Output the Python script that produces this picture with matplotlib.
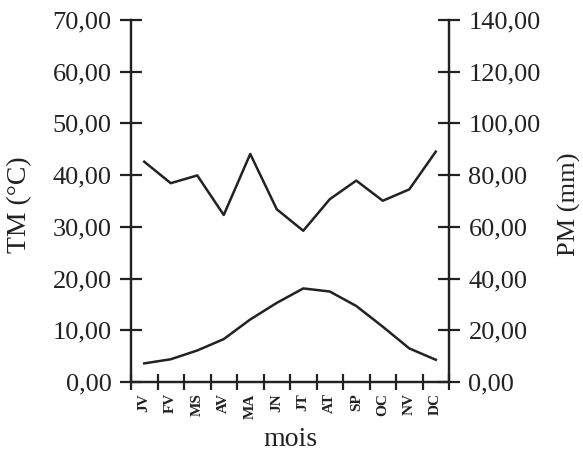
import matplotlib.pyplot as plt
from matplotlib.ticker import FuncFormatter, FixedLocator, MultipleLocator

mois = ["JV", "FV", "MS", "AV", "MA", "JN", "JT", "AT", "SP", "OC", "NV", "DC"]
tm = [3.6, 4.4, 6.1, 8.3, 12.1, 15.3, 18.1, 17.5, 14.7, 10.7, 6.5, 4.3]
pm = [85.2, 76.9, 79.9, 64.6, 88.2, 66.8, 58.5, 70.7, 77.9, 70.1, 74.5, 89.1]

plt.rcParams["font.family"] = "serif"
plt.rcParams["font.serif"] = ["Liberation Serif", "DejaVu Serif"]
ink = "#222222"

fig = plt.figure(figsize=(5.83, 4.55), dpi=100)
ax = fig.add_axes([0.2247, 0.1604, 0.5455, 0.7956])
ax2 = ax.twinx()

x = range(len(mois))
ax.plot(x, tm, color=ink, lw=1.8)
ax2.plot(x, pm, color=ink, lw=1.8)

ax.set_xlim(-0.5, len(mois) - 0.5)
ax.set_ylim(0, 70)
ax2.set_ylim(0, 140)
ax.yaxis.set_major_locator(MultipleLocator(10))
ax2.yaxis.set_major_locator(MultipleLocator(20))

fmt = FuncFormatter(lambda v, p: f"{v:.2f}".replace(".", ","))
ax.yaxis.set_major_formatter(fmt)
ax2.yaxis.set_major_formatter(fmt)

# ticks between months, labels at month centres
ax.xaxis.set_major_locator(FixedLocator([i - 0.5 for i in range(len(mois) + 1)]))
ax.xaxis.set_major_formatter(FuncFormatter(lambda v, p: ""))
ax.xaxis.set_minor_locator(FixedLocator(list(x)))
ax.set_xticklabels(mois, minor=True, rotation=90, fontsize=11, fontweight="bold")
ax.tick_params(axis="x", which="minor", length=0, pad=8, labelcolor=ink)
ax.tick_params(axis="x", which="major", direction="inout", length=11, width=1.6, color=ink)

for a in (ax, ax2):
    a.spines["top"].set_visible(False)
    for s in a.spines.values():
        s.set_linewidth(1.6)
        s.set_color(ink)
    a.tick_params(axis="y", direction="inout", length=16, width=1.6, color=ink,
                  labelsize=19, labelcolor=ink, pad=6)

ax.set_ylabel("TM (°C)", fontsize=20, color=ink)
ax2.set_ylabel("PM (mm)", fontsize=19, color=ink)
ax.set_xlabel("mois", fontsize=20, color=ink)
ax.yaxis.set_label_coords(-0.31, 0.49)
ax2.yaxis.set_label_coords(1.343, 0.49)
ax.xaxis.set_label_coords(0.5, -0.125)

fig.savefig("out.png", dpi=100)
